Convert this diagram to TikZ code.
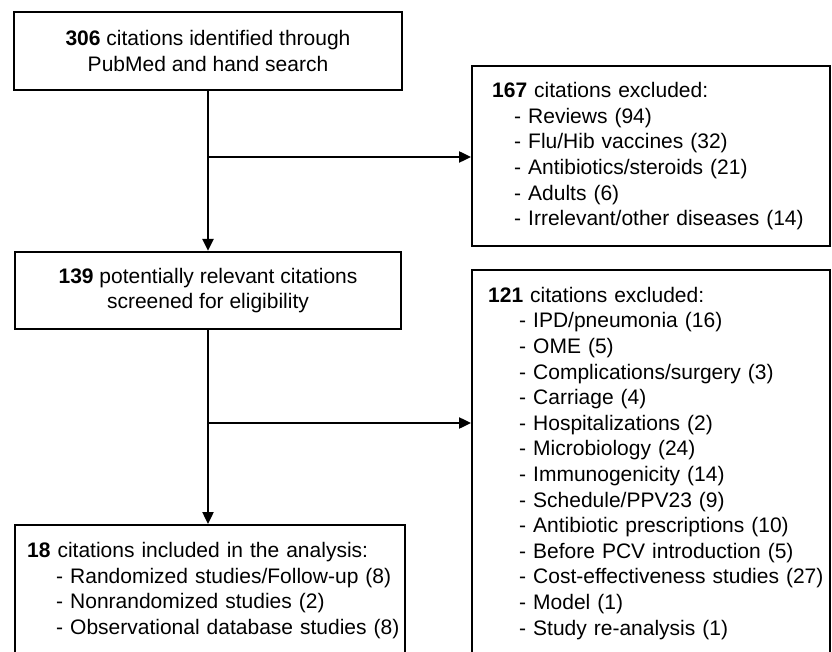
\documentclass[tikz,border=0pt]{standalone}
\usepackage{fontspec}
\setmainfont{Liberation Sans}
\usetikzlibrary{arrows.meta}

\begin{document}
\begin{tikzpicture}[x=1pt, y=-1pt,
	box/.style = { draw, line width=2.4pt, inner sep=0pt, align=center,
	  font=\fontsize{21}{25.6}\selectfont },
	listbox/.style = { box, align=left, anchor=north west },
	flow/.style = { line width=2.4pt, -{Triangle[length=12pt,width=11pt]} }]

  \useasboundingbox (0,0) rectangle (832,652);
  \clip (0,0) rectangle (832,652);

  \node[box, minimum width=388pt, minimum height=78pt] (found) at (208,51)
    {\textbf{306} citations identified through\\PubMed and hand search};
  \node[box, minimum width=386pt, minimum height=77pt] (screen) at (208,290.5)
    {\textbf{139} potentially relevant citations\\screened for eligibility};
  \node[listbox, text width=390pt, minimum height=131pt] (incl) at (14,524)
    {\hspace*{12pt}\textbf{18} citations included in the analysis:\\
     \hspace*{41pt}- Randomized studies/Follow-up (8)\\
     \hspace*{41pt}- Nonrandomized studies (2)\\
     \hspace*{41pt}- Observational database studies (8)};

  \node[listbox, text width=358pt, minimum height=180pt] (excl1) at (471,65)
    {\hspace*{20pt}\textbf{167} citations excluded:\\
     \hspace*{42pt}- Reviews (94)\\
     \hspace*{42pt}- Flu/Hib vaccines (32)\\
     \hspace*{42pt}- Antibiotics/steroids (21)\\
     \hspace*{42pt}- Adults (6)\\
     \hspace*{42pt}- Irrelevant/other diseases (14)};
  \node[listbox, text width=358pt, minimum height=386pt] (excl2) at (471,269)
    {\hspace*{16pt}\textbf{121} citations excluded:\\
     \hspace*{47pt}- IPD/pneumonia (16)\\
     \hspace*{47pt}- OME (5)\\
     \hspace*{47pt}- Complications/surgery (3)\\
     \hspace*{47pt}- Carriage (4)\\
     \hspace*{47pt}- Hospitalizations (2)\\
     \hspace*{47pt}- Microbiology (24)\\
     \hspace*{47pt}- Immunogenicity (14)\\
     \hspace*{47pt}- Schedule/PPV23 (9)\\
     \hspace*{47pt}- Antibiotic prescriptions (10)\\
     \hspace*{47pt}- Before PCV introduction (5)\\
     \hspace*{47pt}- Cost-effectiveness studies (27)\\
     \hspace*{47pt}- Model (1)\\
     \hspace*{47pt}- Study re-analysis (1)};

  \coordinate (split1) at (208,157);
  \coordinate (split2) at (208,423);

  \draw[flow] (found) -- (screen);
  \draw[flow] (split1) -- (split1 -| excl1.west);
  \draw[flow] (screen) -- (incl.north -| screen.south);
  \draw[flow] (split2) -- (split2 -| excl2.west);
\end{tikzpicture}
\end{document}
